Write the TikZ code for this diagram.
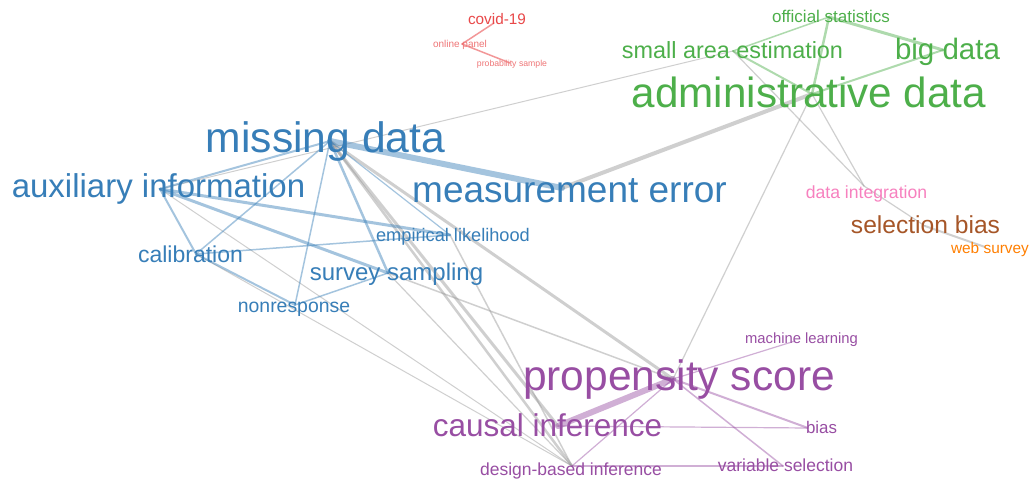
\documentclass[tikz,border=0pt]{standalone}
\usepackage{fontspec}
\setmainfont{Liberation Sans}

\definecolor{clblue}{RGB}{55,126,184}
\definecolor{clgreen}{RGB}{77,175,74}
\definecolor{clred}{RGB}{228,26,28}
\definecolor{clpurple}{RGB}{152,78,163}
\definecolor{clorange}{RGB}{255,127,0}
\definecolor{clbrown}{RGB}{166,86,40}
\definecolor{clpink}{RGB}{247,129,191}
\definecolor{cllink}{RGB}{150,150,150}

\newcommand{\kwsize}[1]{\fontsize{#1}{#1}\selectfont}

\tikzset{
  kw/.style={anchor=base, inner sep=0pt},
  link/.style={line cap=round, opacity=.45, line width=#1},
  graylink/.style={link=#1, draw=cllink},
  bluelink/.style={link=#1, draw=clblue},
  greenlink/.style={link=#1, draw=clgreen},
  redlink/.style={link=#1, draw=clred},
  purplelink/.style={link=#1, draw=clpurple},
}

\begin{document}
\begin{tikzpicture}[x=1pt, y=-1pt]
\useasboundingbox[fill=white] (0,0) rectangle (1031,479);
%\draw [help lines, step=50] (0,0) grid (1031,479);

% keyword positions
\coordinate (covid) at (494,23);
\coordinate (online) at (462,44);
\coordinate (prob) at (510,63);
\coordinate (offstat) at (829,17);
\coordinate (sae) at (733,51);
\coordinate (bigdata) at (943,50);
\coordinate (admin) at (812,94);
\coordinate (missing) at (330,141);
\coordinate (measerr) at (562,188);
\coordinate (aux) at (160,189);
\coordinate (calib) at (196,254);
\coordinate (emplik) at (450,235);
\coordinate (survey) at (388,273);
\coordinate (nonresp) at (295,305);
\coordinate (dataint) at (864,186);
\coordinate (selbias) at (925,226);
\coordinate (websurvey) at (985,247);
\coordinate (propens) at (673,379);
\coordinate (machine) at (795,341);
\coordinate (causal) at (558,426);
\coordinate (bias) at (808,428);
\coordinate (design) at (572,466);
\coordinate (varsel) at (783,466);

% links between clusters
\draw [graylink=1] (aux) -- (sae);
\draw [graylink=4] (admin) -- (measerr);
\draw [graylink=1.2] (admin) -- (propens);
\draw [graylink=1.2] (admin) -- (dataint);
\draw [graylink=1.2] (sae) -- (dataint);
\draw [graylink=1.2] (dataint) -- (selbias);
\draw [graylink=2] (selbias) -- (websurvey);
\draw [graylink=3] (missing) -- (propens);
\draw [graylink=3] (missing) -- (causal);
\draw [graylink=2.5] (missing) -- (design);
\draw [graylink=1.5] (survey) -- (propens);
\draw [graylink=1.2] (survey) -- (design);
\draw [graylink=1.5] (emplik) -- (design);
\draw [graylink=1] (aux) -- (design);
\draw [graylink=1] (calib) -- (design);

% links inside clusters
\draw [redlink=1.5] (online) -- (covid);
\draw [redlink=1.5] (online) -- (prob);

\draw [greenlink=1.5] (offstat) -- (sae);
\draw [greenlink=3] (offstat) -- (bigdata);
\draw [greenlink=2.5] (offstat) -- (admin);
\draw [greenlink=2] (sae) -- (admin);
\draw [greenlink=2] (bigdata) -- (admin);

\draw [bluelink=6] (missing) -- (measerr);
\draw [bluelink=2] (missing) -- (aux);
\draw [bluelink=1.5] (missing) -- (calib);
\draw [bluelink=1.2] (missing) -- (emplik);
\draw [bluelink=2.5] (missing) -- (survey);
\draw [bluelink=1.5] (missing) -- (nonresp);
\draw [bluelink=2] (aux) -- (calib);
\draw [bluelink=3] (aux) -- (emplik);
\draw [bluelink=3] (aux) -- (survey);
\draw [bluelink=1.5] (calib) -- (emplik);
\draw [bluelink=2] (calib) -- (nonresp);
\draw [bluelink=1.5] (survey) -- (nonresp);

\draw [purplelink=6] (propens) -- (causal);
\draw [purplelink=1.2] (propens) -- (machine);
\draw [purplelink=2] (propens) -- (bias);
\draw [purplelink=1.5] (propens) -- (varsel);
\draw [purplelink=1.2] (propens) -- (design);
\draw [purplelink=1.2] (causal) -- (bias);
\draw [purplelink=1.5] (design) -- (varsel);

% labels
\node [kw, font=\kwsize{15.3}, text=clred!80] (covid-l) at (497,24) {covid-19};
\node [kw, font=\kwsize{10}, text=clred!60] (online-l) at (460,47) {online panel};
\node [kw, font=\kwsize{8.7}, text=clred!60] (prob-l) at (512,66) {probability sample};

\node [kw, font=\kwsize{17}, text=clgreen] (offstat-l) at (831,22) {official statistics};
\node [kw, font=\kwsize{23.4}, text=clgreen] (sae-l) at (732.5,58) {small area estimation};
\node [kw, font=\kwsize{29.5}, text=clgreen] (bigdata-l) at (947.5,59) {big data};
\node [kw, font=\kwsize{42.2}, text=clgreen] (admin-l) at (809,107) {administrative data};

\node [kw, font=\kwsize{42.6}, text=clblue] (missing-l) at (325.5,152) {missing data};
\node [kw, font=\kwsize{37}, text=clblue] (measerr-l) at (569.5,202) {measurement error};
\node [kw, font=\kwsize{33}, text=clblue] (aux-l) at (158.5,197) {auxiliary information};
\node [kw, font=\kwsize{23}, text=clblue] (calib-l) at (190.5,262) {calibration};
\node [kw, font=\kwsize{18.2}, text=clblue] (emplik-l) at (453,241) {empirical likelihood};
\node [kw, font=\kwsize{24}, text=clblue] (survey-l) at (396.5,280) {survey sampling};
\node [kw, font=\kwsize{19.4}, text=clblue] (nonresp-l) at (294,312) {nonresponse};

\node [kw, font=\kwsize{17.6}, text=clpink] (dataint-l) at (866.5,198) {data integration};
\node [kw, font=\kwsize{24.6}, text=clbrown] (selbias-l) at (925.5,233) {selection bias};
\node [kw, font=\kwsize{15.4}, text=clorange] (websurvey-l) at (990,253) {web survey};

\node [kw, font=\kwsize{42.5}, text=clpurple] (propens-l) at (679,390) {propensity score};
\node [kw, font=\kwsize{14.8}, text=clpurple] (machine-l) at (801.5,343) {machine learning};
\node [kw, font=\kwsize{31.5}, text=clpurple] (causal-l) at (547.5,436) {causal inference};
\node [kw, font=\kwsize{16.9}, text=clpurple] (bias-l) at (821.5,433) {bias};
\node [kw, font=\kwsize{17.5}, text=clpurple] (design-l) at (571,475) {design-based inference};
\node [kw, font=\kwsize{17.5}, text=clpurple] (varsel-l) at (785.5,471) {variable selection};
\end{tikzpicture}
\end{document}
